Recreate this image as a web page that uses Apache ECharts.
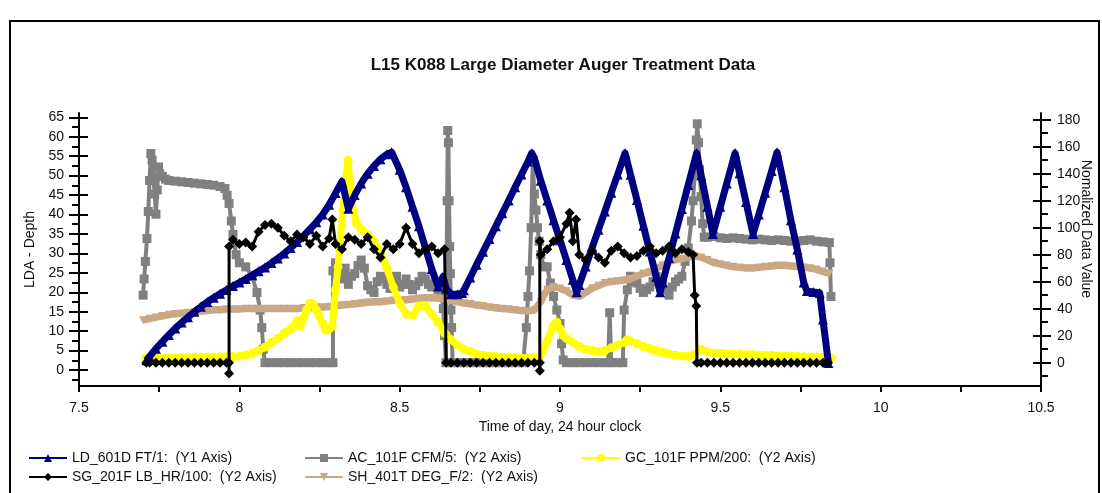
<!DOCTYPE html>
<html>
<head>
<meta charset="utf-8">
<script src="https://cdn.jsdelivr.net/npm/echarts@6/dist/echarts.min.js"></script>
<style>
  html, body { margin: 0; padding: 0; background: #fff; }
  #chart { width: 1102px; height: 493px; }
</style>
</head>
<body>
<div id="chart"></div>
<script>
// tick labels
var xLabels = [7.5, 8, 8.5, 9, 9.5, 10, 10.5]
var y1Major = [0, 5, 10, 15, 20, 25, 30, 35, 40, 45, 50, 55, 60, 65]
var y1Minor = [-2.5, 2.5, 7.5, 12.5, 17.5, 22.5, 27.5, 32.5, 37.5, 42.5, 47.5, 52.5, 57.5, 62.5]
var y2Major = [0, 20, 40, 60, 80, 100, 120, 140, 160, 180]
var y2Minor = [-10, 10, 30, 50, 70, 90, 110, 130, 150, 170]

// series, [time of day, value]
var ldDepth = [[7.71,2.5],[7.72,3.5],[7.74,5.5],[7.76,7.3],[7.78,9.0],[7.80,10.7],[7.82,12.2],[7.84,13.6],[7.86,15.0],[7.88,16.3],[7.90,17.5],[7.92,18.6],[7.94,19.6],[7.96,20.6],[7.98,21.6],[8.00,22.5],[8.02,23.4],[8.04,24.4],[8.06,25.4],[8.08,26.4],[8.10,27.5],[8.12,28.7],[8.14,30.0],[8.16,31.4],[8.18,32.9],[8.20,34.5],[8.22,36.2],[8.24,38.0],[8.26,40.0],[8.28,42.5],[8.30,45.5],[8.32,48.5],[8.34,41.5],[8.36,45],[8.38,48],[8.40,50.5],[8.42,52.5],[8.44,54.2],[8.46,55.5],[8.475,56],[8.50,51.5],[8.52,47],[8.54,42],[8.56,37],[8.58,31.5],[8.60,26],[8.62,21.5],[8.635,24],[8.645,21],[8.66,19.5],[8.68,19.5],[8.695,19.8],[8.70,20.5],[8.72,23.8],[8.74,27.1],[8.76,30.4],[8.78,33.7],[8.80,37],[8.82,40.3],[8.84,43.6],[8.86,47],[8.88,50.3],[8.90,53.6],[8.912,55.8],[8.92,54.5],[8.94,48.7],[8.96,43.6],[8.98,38.5],[9.00,33.4],[9.02,28.3],[9.04,23.2],[9.052,20],[9.06,21.9],[9.08,26.6],[9.10,31.4],[9.12,36.1],[9.14,40.8],[9.16,45.6],[9.18,50.3],[9.203,55.8],[9.22,50.2],[9.24,43.7],[9.26,37.1],[9.28,30.5],[9.30,24],[9.312,20],[9.32,22.5],[9.34,28.8],[9.36,35.1],[9.38,41.4],[9.40,47.6],[9.426,55.8],[9.44,50.1],[9.46,42],[9.477,35],[9.50,42],[9.52,48],[9.546,55.8],[9.56,50.6],[9.58,43.2],[9.602,35],[9.62,40],[9.64,45.6],[9.66,51.2],[9.677,56],[9.70,47],[9.72,38.5],[9.74,31],[9.76,22.5],[9.77,20.3],[9.79,20.1],[9.81,19.8],[9.82,13],[9.837,1.8]]

var sgFlow = [[7.71,0],[7.72,0],[7.74,0],[7.76,0],[7.78,0],[7.80,0],[7.82,0],[7.84,0],[7.86,0],[7.88,0],[7.90,0],[7.92,0],[7.94,0],[7.96,0],[7.968,0],[7.968,-8],[7.968,86],[7.98,91],[8.00,88],[8.02,89],[8.04,86],[8.06,97],[8.08,102],[8.10,103],[8.12,100],[8.14,94],[8.16,90],[8.18,95],[8.20,93],[8.22,88],[8.24,94],[8.26,86],[8.28,92],[8.29,106],[8.30,88],[8.32,84],[8.34,93],[8.36,91],[8.38,88],[8.40,93],[8.42,84],[8.44,78],[8.46,88],[8.48,84],[8.50,88],[8.52,100],[8.54,88],[8.56,81],[8.58,84],[8.60,86],[8.62,81],[8.64,84],[8.645,0],[8.66,0],[8.68,0],[8.70,0],[8.72,0],[8.74,0],[8.76,0],[8.78,0],[8.80,0],[8.82,0],[8.84,0],[8.86,0],[8.88,0],[8.90,0],[8.92,0],[8.937,0],[8.937,-6],[8.937,90],[8.94,80],[8.96,84],[8.98,90],[9.00,93],[9.02,103],[9.03,111],[9.04,90],[9.05,106],[9.06,80],[9.08,76],[9.10,83],[9.12,78],[9.14,74],[9.16,83],[9.18,86],[9.20,81],[9.22,78],[9.24,79],[9.26,83],[9.28,86],[9.30,81],[9.32,83],[9.34,86],[9.36,81],[9.38,84],[9.40,82],[9.415,80],[9.42,50],[9.425,42],[9.427,0],[9.44,0],[9.46,0],[9.48,0],[9.50,0],[9.52,0],[9.54,0],[9.56,0],[9.58,0],[9.60,0],[9.62,0],[9.64,0],[9.66,0],[9.68,0],[9.70,0],[9.72,0],[9.74,0],[9.76,0],[9.78,0],[9.80,0],[9.82,0],[9.836,0]]

var acFlow = [[7.70,50],[7.703,62],[7.707,75],[7.712,92],[7.716,112],[7.72,135],[7.724,155],[7.728,150],[7.732,137],[7.736,125],[7.74,110],[7.744,128],[7.748,145],[7.752,140],[7.76,138],[7.77,136],[7.78,135],[7.80,134.5],[7.82,134],[7.84,133.5],[7.86,133],[7.88,132.5],[7.90,132],[7.92,131.5],[7.94,130.5],[7.955,129],[7.962,124],[7.968,118],[7.975,105],[7.98,95],[7.99,80],[8.00,74],[8.02,71],[8.04,64],[8.055,52],[8.065,39],[8.07,26],[8.075,10],[8.08,0],[8.10,0],[8.12,0],[8.14,0],[8.16,0],[8.18,0],[8.20,0],[8.22,0],[8.24,0],[8.26,0],[8.28,0],[8.292,0],[8.292,68],[8.30,74],[8.31,66],[8.32,62],[8.33,70],[8.34,58],[8.35,64],[8.36,66],[8.37,72],[8.38,76],[8.39,70],[8.40,57],[8.41,54],[8.42,52],[8.43,60],[8.44,64],[8.45,62],[8.46,58],[8.47,55],[8.48,60],[8.49,64],[8.50,56],[8.51,58],[8.52,62],[8.53,58],[8.54,54],[8.55,57],[8.56,60],[8.57,64],[8.58,62],[8.59,58],[8.60,56],[8.61,60],[8.62,54],[8.63,52],[8.636,40],[8.64,20],[8.644,0],[8.646,60],[8.648,120],[8.650,172],[8.652,163],[8.654,120],[8.656,86],[8.658,66],[8.66,39],[8.662,26],[8.665,0],[8.68,0],[8.70,0],[8.72,0],[8.74,0],[8.76,0],[8.78,0],[8.80,0],[8.82,0],[8.84,0],[8.86,0],[8.885,0],[8.895,26],[8.90,49],[8.905,68],[8.91,100],[8.915,150],[8.92,125],[8.925,113],[8.93,100],[8.935,90],[8.94,80],[8.95,71],[8.96,71],[8.97,59],[8.98,49],[8.99,39],[9.00,29],[9.005,14],[9.01,2],[9.02,0],[9.04,0],[9.06,0],[9.08,0],[9.10,0],[9.12,0],[9.14,0],[9.15,0],[9.155,37],[9.16,0],[9.18,0],[9.196,0],[9.20,39],[9.21,54],[9.22,64],[9.23,60],[9.24,59],[9.25,55],[9.26,52],[9.27,54],[9.28,56],[9.29,60],[9.30,64],[9.31,60],[9.32,58],[9.33,54],[9.34,50],[9.35,56],[9.36,60],[9.37,62],[9.38,64],[9.39,75],[9.40,85],[9.41,105],[9.415,120],[9.42,140],[9.425,165],[9.428,177],[9.432,163],[9.435,143],[9.44,123],[9.445,103],[9.45,93],[9.46,93],[9.48,93.5],[9.50,92.5],[9.52,92],[9.54,92.5],[9.56,92],[9.58,91.5],[9.60,91],[9.62,91.5],[9.64,91],[9.66,90.5],[9.68,91],[9.70,90.5],[9.72,90],[9.74,90],[9.76,90.5],[9.78,91],[9.80,90],[9.82,89.5],[9.84,89],[9.842,74],[9.845,49]]

var shTemp = [[7.70,31.5],[7.72,32.5],[7.74,33.5],[7.76,34.5],[7.78,35.5],[7.80,36],[7.82,36.5],[7.84,37],[7.86,37.5],[7.88,38],[7.90,38.5],[7.92,39],[7.94,39],[7.96,39.5],[7.98,39.5],[8.00,39.5],[8.02,40],[8.04,40],[8.06,40],[8.08,40],[8.10,40],[8.12,40],[8.14,40],[8.16,40],[8.18,40],[8.20,40.5],[8.22,40.5],[8.24,41],[8.26,41],[8.28,41.5],[8.30,42],[8.32,42.5],[8.34,43],[8.36,43.5],[8.38,44],[8.40,44.5],[8.42,45],[8.44,45],[8.46,45.5],[8.48,46],[8.50,46],[8.52,46.5],[8.54,47],[8.56,47.5],[8.58,48],[8.60,48],[8.62,47.5],[8.64,47],[8.66,46],[8.68,45],[8.70,44],[8.72,43.5],[8.74,42.5],[8.76,42],[8.78,41],[8.80,40.5],[8.82,40],[8.84,39.5],[8.86,39],[8.88,38.5],[8.90,38],[8.92,39],[8.94,45],[8.95,50],[8.96,54],[8.98,56],[9.00,55],[9.02,53],[9.04,50],[9.06,49],[9.08,52],[9.10,55],[9.12,57],[9.14,59],[9.16,60],[9.18,60.5],[9.20,61],[9.22,62],[9.24,64],[9.26,66],[9.28,67],[9.30,70],[9.32,72],[9.34,75],[9.36,76],[9.38,77],[9.40,78],[9.42,79],[9.44,78],[9.46,76],[9.48,74],[9.50,73],[9.52,72],[9.54,71],[9.56,70.5],[9.58,70],[9.60,70],[9.62,70.5],[9.64,71],[9.66,71.5],[9.68,72],[9.70,72],[9.72,71.5],[9.74,71],[9.76,70.5],[9.78,70],[9.80,69],[9.82,67.5],[9.84,66]]

var gcPpm = [[7.71,3.5],[7.72,3.5],[7.74,3.5],[7.76,3.5],[7.78,3.5],[7.80,3.5],[7.82,3.6],[7.84,3.8],[7.86,4],[7.88,4],[7.90,4],[7.92,4.1],[7.94,4.2],[7.96,4.4],[7.98,4.5],[8.00,4.8],[8.02,5.5],[8.04,7],[8.06,9],[8.08,11.5],[8.10,15],[8.12,18],[8.14,22],[8.16,25],[8.18,31],[8.19,27],[8.20,33],[8.21,39],[8.22,44],[8.23,43],[8.24,39],[8.25,34],[8.26,29],[8.27,24],[8.28,25],[8.29,27],[8.30,54],[8.308,71],[8.314,89],[8.323,113],[8.335,140],[8.339,150],[8.345,133],[8.354,113],[8.366,103],[8.38,99],[8.40,95],[8.42,90],[8.44,82],[8.46,70],[8.48,56],[8.50,44],[8.52,36],[8.54,35],[8.56,42],[8.58,42],[8.60,36],[8.62,30],[8.64,22],[8.66,17],[8.68,13],[8.70,10],[8.72,8],[8.74,6.5],[8.76,5.5],[8.78,5],[8.80,4.5],[8.82,4],[8.84,4],[8.86,3.8],[8.88,3.5],[8.90,3.5],[8.92,3.5],[8.935,3.5],[8.945,8],[8.96,16],[8.978,27],[8.99,30],[9.00,25],[9.01,20],[9.02,18],[9.04,15],[9.06,12],[9.08,10],[9.10,9],[9.12,8],[9.14,9],[9.16,11],[9.18,13],[9.20,15],[9.21,17],[9.22,16],[9.24,14],[9.26,12],[9.28,10.5],[9.30,9],[9.32,7.5],[9.34,6.5],[9.36,5.5],[9.38,5],[9.40,4.5],[9.42,6],[9.44,10],[9.46,8],[9.48,7],[9.50,7],[9.52,6.5],[9.54,6.5],[9.56,6.5],[9.58,6],[9.60,6],[9.62,5.5],[9.64,5.5],[9.66,5.5],[9.68,5],[9.70,5],[9.72,5],[9.74,4.5],[9.76,4.5],[9.78,4.2],[9.80,4.2],[9.82,4],[9.847,3.5]]

var FONT = 'Liberation Sans'
var black = { color: '#000', width: 2 }

// a y axis that only draws ticks (used for the crossing and minor ticks)
function tickAxis(pos, min, max, values, len, inside) {
  return {
    type: 'value', position: pos, min: min, max: max,
    axisLine: { show: false },
    axisLabel: { show: false },
    splitLine: { show: false },
    axisTick: { show: true, inside: inside, length: len, customValues: values, lineStyle: black }
  }
}

function legendCol(names, left) {
  return {
    data: names, left: left, top: 446, orient: 'vertical',
    itemGap: 5, itemWidth: 38, itemHeight: 10, selectedMode: false,
    lineStyle: { width: 2 }, textStyle: { fontSize: 14, color: '#111' }
  }
}

var chart = echarts.init(document.getElementById('chart'))
chart.setOption({
  animation: false,
  backgroundColor: '#fff',
  textStyle: { fontFamily: FONT },
  title: {
    text: 'L15 K088 Large Diameter Auger Treatment Data',
    left: 558, top: 52, textAlign: 'center',
    textStyle: { fontSize: 17, fontWeight: 'bold', color: '#111', fontFamily: FONT }
  },
  grid: { left: 79, right: 61, top: 113, bottom: 107, containLabel: false },
  graphic: [
    {
      type: 'rect', silent: true, z: -1,
      shape: { x: 10, y: 21, width: 1089, height: 480 },
      style: { fill: 'none', stroke: '#000', lineWidth: 2 }
    },
    {
      type: 'text', silent: true, x: 1086, y: 229, rotation: -Math.PI / 2,
      style: { text: 'Nomalized Data Value', fontSize: 14, fontFamily: FONT, fill: '#111', align: 'center', verticalAlign: 'middle' }
    }
  ],
  legend: [
    legendCol(['LD_601D FT/1:  (Y1 Axis)', 'SG_201F LB_HR/100:  (Y2 Axis)'], 23),
    legendCol(['AC_101F CFM/5:  (Y2 Axis)', 'SH_401T DEG_F/2:  (Y2 Axis)'], 299),
    legendCol(['GC_101F PPM/200:  (Y2 Axis)'], 576)
  ],
  xAxis: {
    type: 'value', min: 7.5, max: 10.5, interval: 0.25,
    name: 'Time of day, 24 hour clock', nameLocation: 'middle', nameGap: 31,
    nameTextStyle: { fontSize: 14, color: '#111' },
    axisLine: { onZero: false, lineStyle: black },
    axisTick: { length: 6, lineStyle: black },
    axisLabel: { customValues: xLabels, margin: 15, fontSize: 14, color: '#111' },
    splitLine: { show: false }
  },
  yAxis: [
    {
      type: 'value', position: 'left', min: -4.1, max: 66.1,
      name: 'LDA - Depth', nameLocation: 'middle', nameGap: 35,
      nameTextStyle: { fontSize: 14, color: '#111' },
      axisLine: { show: true, onZero: false, lineStyle: black },
      axisTick: { show: true, length: 10, customValues: y1Major, lineStyle: black },
      axisLabel: { customValues: y1Major, margin: 15, fontSize: 14, color: '#111' },
      splitLine: { show: false }
    },
    {
      type: 'value', position: 'right', min: -17.3, max: 185,
      axisLine: { show: true, onZero: false, lineStyle: black },
      axisTick: { show: true, length: 10, customValues: y2Major, lineStyle: black },
      axisLabel: { customValues: y2Major, margin: 16, fontSize: 14, color: '#111' },
      splitLine: { show: false }
    },
    tickAxis('left', -4.1, 66.1, y1Major, 9, true),
    tickAxis('right', -17.3, 185, y2Major, 8, true),
    tickAxis('left', -4.1, 66.1, y1Minor, 7, false),
    tickAxis('right', -17.3, 185, y2Minor, 7, false)
  ],
  series: [
    {
      name: 'AC_101F CFM/5:  (Y2 Axis)', type: 'line', yAxisIndex: 1, data: acFlow,
      symbol: 'rect', symbolSize: 9, color: '#808080',
      lineStyle: { color: '#808080', width: 4 }, itemStyle: { color: '#808080' }, z: 2
    },
    {
      name: 'SH_401T DEG_F/2:  (Y2 Axis)', type: 'line', yAxisIndex: 1, data: shTemp,
      symbol: 'triangle', symbolRotate: 180, symbolSize: 8, color: '#c9a883',
      lineStyle: { color: '#c9a883', width: 7 }, itemStyle: { color: '#c9a883' }, z: 3
    },
    {
      name: 'GC_101F PPM/200:  (Y2 Axis)', type: 'line', yAxisIndex: 1, data: gcPpm,
      symbol: 'circle', symbolSize: 9, color: '#ffff00',
      lineStyle: { color: '#ffff00', width: 7 }, itemStyle: { color: '#ffff00' }, z: 4
    },
    {
      name: 'LD_601D FT/1:  (Y1 Axis)', type: 'line', yAxisIndex: 0, data: ldDepth,
      symbol: 'triangle', symbolSize: 10, color: '#000080',
      lineStyle: { color: '#000080', width: 7, join: 'round' }, itemStyle: { color: '#000080' }, z: 5
    },
    {
      name: 'SG_201F LB_HR/100:  (Y2 Axis)', type: 'line', yAxisIndex: 1, data: sgFlow,
      symbol: 'diamond', symbolSize: 10, color: '#000',
      lineStyle: { color: '#000', width: 3 }, itemStyle: { color: '#000' }, z: 6
    }
  ]
})
</script>
</body>
</html>
